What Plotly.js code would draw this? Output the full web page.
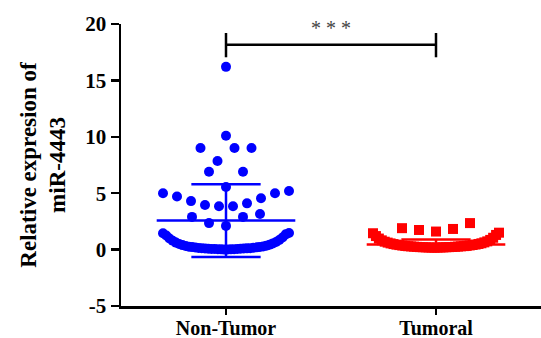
<!DOCTYPE html>
<html>
<head>
<meta charset="utf-8">
<script src="https://cdn.plot.ly/plotly-3.0.1.min.js"></script>
<style>
  html, body { margin: 0; padding: 0; background: #fff; }
  #chart { width: 541px; height: 338px; }
</style>
</head>
<body>
<div id="chart"></div>
<script>
// ---------------- data ----------------
const categories = ['Non-Tumor', 'Tumoral'];

const nonTumor = [
  16.2, 10.1, 9.0, 9.0, 9.0, 7.85, 6.9, 6.9, 5.55,
  5.2, 5.0, 5.0, 4.7, 4.55, 4.3, 4.1, 3.95, 3.85, 3.85,
  3.15, 2.9, 2.9, 2.35, 2.1,
  0.00, 0.01, 0.02, 0.02, 0.03, 0.04, 0.05, 0.05, 0.06, 0.07,
  0.08, 0.09, 0.10, 0.11, 0.12, 0.13, 0.15, 0.16, 0.18, 0.20,
  0.22, 0.24, 0.26, 0.28, 0.32, 0.35, 0.40, 0.44, 0.50, 0.55,
  0.62, 0.68, 0.78, 0.85, 0.98, 1.08, 1.25, 1.35, 1.45, 1.47
];

const tumoral = [
  2.35, 1.9, 1.83, 1.74, 1.6,
  0.17, 0.18, 0.18, 0.19, 0.19, 0.20, 0.20, 0.21, 0.21, 0.22, 0.22,
  0.23, 0.24, 0.25, 0.26, 0.27, 0.28, 0.29, 0.30, 0.31, 0.33, 0.34,
  0.36, 0.37, 0.40, 0.41, 0.44, 0.45, 0.49, 0.50, 0.55, 0.56, 0.62,
  0.64, 0.70, 0.73, 0.82, 0.86, 0.98, 1.05, 1.20, 1.30, 1.45, 1.50
];

const groupMean = [2.57, 0.45];
const groupSD = [3.22, 0.45];

const yTickVals = [-5, 0, 5, 10, 15, 20];
const yTickText = ['-5', '0', '5', '10', '15', '20'];
const sigLabel = '* * *';
const bracketLevel = [18.15];
const bracketEnds = [17.05, 19.2];

// ---------------- layout constants ----------------
const W = 541, H = 338;
const M = { l: 121, r: 0, t: 24, b: 32 };
const xRange = [-0.5, 1.5];
const yRange = [-5, 20];
const pxPerUnit = (W - M.l - M.r) / (xRange[1] - xRange[0]);
const BIN = 1.9, BIN_SHIFT = 0.37;       // row grouping of the dot plot
const MAX_STEP_PX = 17, MAX_WIDTH_PX = 126;
const MEAN_HALF = 0.33, SD_HALF = 0.165;

// Scatter-dot-plot layout: points are grouped in rows by value,
// each row sorted and spread alternately left / right of the centre.
function swarm(values, centre) {
  const rows = {};
  values.forEach(v => {
    const k = Math.floor((v + BIN_SHIFT) / BIN);
    (rows[k] = rows[k] || []).push(v);
  });
  const xs = [], ys = [];
  Object.keys(rows).forEach(k => {
    const r = rows[k].slice().sort((a, b) => a - b);
    const n = r.length;
    const stepPx = n > 1 ? Math.min(MAX_STEP_PX, MAX_WIDTH_PX / (n - 1)) : 0;
    const step = stepPx / pxPerUnit;
    r.forEach((v, i) => {
      let off;
      if (n % 2 === 1) {
        if (i === 0) off = 0;
        else { const m = Math.ceil(i / 2); off = (i % 2 === 1 ? -1 : 1) * m * step; }
      } else {
        const m = Math.floor(i / 2) + 0.5;
        off = (i % 2 === 0 ? -1 : 1) * m * step;
      }
      xs.push(centre + off);
      ys.push(v);
    });
  });
  return { x: xs, y: ys };
}

const colors = ['rgb(0,0,255)', 'rgb(255,0,0)'];
const symbols = ['circle', 'square'];
const groups = [nonTumor, tumoral];

const traces = [];
groups.forEach((vals, g) => {
  const s = swarm(vals, g);
  traces.push({
    type: 'scatter', mode: 'markers', name: categories[g],
    x: s.x, y: s.y,
    marker: { symbol: symbols[g], size: 10, color: colors[g], line: { width: 0 } },
    hoverinfo: 'skip', showlegend: false
  });
});

groups.forEach((vals, g) => {
  const m = groupMean[g], sd = groupSD[g];
  traces.push({
    type: 'scatter', mode: 'lines',
    x: [g - MEAN_HALF, g + MEAN_HALF], y: [m, m],
    line: { color: colors[g], width: 2.5 },
    hoverinfo: 'skip', showlegend: false
  });
  traces.push({
    type: 'scatter', mode: 'lines',
    x: [g, g, null, g - SD_HALF, g + SD_HALF, null, g - SD_HALF, g + SD_HALF],
    y: [m - sd, m + sd, null, m + sd, m + sd, null, m - sd, m - sd],
    line: { color: colors[g], width: 2.5 },
    hoverinfo: 'skip', showlegend: false
  });
});

const serif = '"Liberation Serif", "Times New Roman", Times, "DejaVu Serif", serif';

const shapes = [
  { type: 'line', xref: 'x', yref: 'y', x0: 0, x1: 1, y0: bracketLevel[0], y1: bracketLevel[0],
    line: { color: 'black', width: 2.5 } },
  { type: 'line', xref: 'x', yref: 'y', x0: 0, x1: 0, y0: bracketEnds[0], y1: bracketEnds[1],
    line: { color: 'black', width: 2.5 } },
  { type: 'line', xref: 'x', yref: 'y', x0: 1, x1: 1, y0: bracketEnds[0], y1: bracketEnds[1],
    line: { color: 'black', width: 2.5 } }
];

const layout = {
  width: W, height: H,
  margin: M,
  paper_bgcolor: 'white', plot_bgcolor: 'white',
  showlegend: false,
  font: { family: serif },
  xaxis: {
    range: xRange, tickmode: 'array', tickvals: [0, 1], ticktext: categories,
    showline: true, linecolor: 'black', linewidth: 2.5,
    ticks: 'outside', ticklen: 6, tickwidth: 2.5, tickcolor: 'black',
    ticklabelstandoff: -4,
    showgrid: false, zeroline: false, fixedrange: true,
    tickfont: { family: serif, size: 20, color: 'black', weight: 'bold' }
  },
  yaxis: {
    range: yRange, tickmode: 'array', tickvals: yTickVals, ticktext: yTickText,
    showline: true, linecolor: 'black', linewidth: 2.5,
    ticks: 'outside', ticklen: 8, tickwidth: 2.5, tickcolor: 'black',
    showgrid: false, zeroline: false, fixedrange: true,
    tickfont: { family: serif, size: 21, color: 'black', weight: 'bold' },
    title: {
      text: 'Relative expresion of<br>miR-4443',
      font: { family: serif, size: 23, color: 'black', weight: 'bold' },
      standoff: 13
    }
  },
  shapes: shapes,
  annotations: [{
    xref: 'x', yref: 'y', x: 0.5, y: bracketLevel[0] + 0.35, yanchor: 'bottom', xanchor: 'center',
    text: sigLabel, showarrow: false,
    font: { family: serif, size: 20, color: '#444' }
  }]
};

Plotly.newPlot('chart', traces, layout, { staticPlot: true, displayModeBar: false });
</script>
</body>
</html>
